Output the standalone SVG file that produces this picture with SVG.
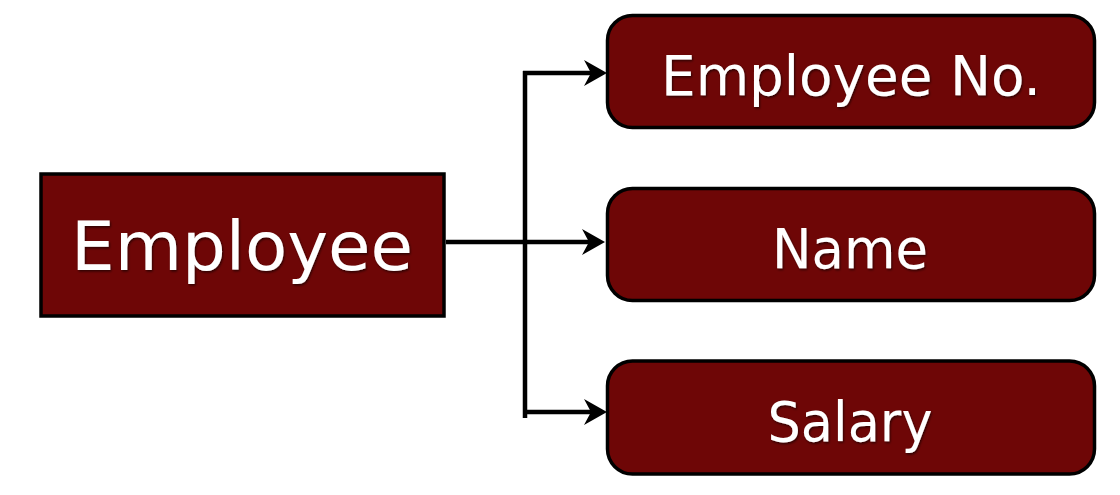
<svg xmlns="http://www.w3.org/2000/svg" width="1120" height="495" viewBox="0 0 1120 495">
  <style>
    .box { fill: #6e0606; stroke: #000; stroke-width: 3.5; }
    .lbl { fill: #fff; font-family: "DejaVu Sans", "Liberation Sans", sans-serif; text-anchor: middle; filter: url(#sh); }
    .conn { fill: none; stroke: #000; stroke-width: 4.5; }
  </style>
  <defs>
    <filter id="sh" x="-10%" y="-20%" width="120%" height="140%">
      <feDropShadow dx="1" dy="1.5" stdDeviation="1" flood-color="#000" flood-opacity="0.6"/>
    </filter>
  </defs>
  <rect width="1120" height="495" fill="#fff"/>
  <g id="connectors">
    <line class="conn" x1="446" y1="242" x2="592" y2="242"/>
    <line class="conn" x1="525" y1="71" x2="525" y2="418"/>
    <line class="conn" x1="523" y1="73" x2="592" y2="73"/>
    <line class="conn" x1="523" y1="412" x2="592" y2="412"/>
    <path d="M584,60 L607,73 L584,86 L591,73 Z" fill="#000"/>
    <path d="M582,229 L605,242 L582,255 L589,242 Z" fill="#000"/>
    <path d="M584,399 L607,412 L584,425 L591,412 Z" fill="#000"/>
  </g>
  <g id="employee">
    <rect class="box" x="41" y="174" width="403" height="142"/>
    <text class="lbl" x="242" y="270" font-size="68" textLength="342" lengthAdjust="spacingAndGlyphs">Employee</text>
  </g>
  <g id="employee-no">
    <rect class="box" x="607.5" y="15.5" width="487" height="112" rx="25" ry="25"/>
    <text class="lbl" x="851" y="95" font-size="56" textLength="380" lengthAdjust="spacingAndGlyphs">Employee No.</text>
  </g>
  <g id="name">
    <rect class="box" x="607.5" y="188.5" width="487" height="112" rx="25" ry="25"/>
    <text class="lbl" x="850" y="268" font-size="56" textLength="156" lengthAdjust="spacingAndGlyphs">Name</text>
  </g>
  <g id="salary">
    <rect class="box" x="607.5" y="361" width="487" height="113" rx="25" ry="25"/>
    <text class="lbl" x="850" y="441" font-size="56" textLength="165" lengthAdjust="spacingAndGlyphs">Salary</text>
  </g>
</svg>
